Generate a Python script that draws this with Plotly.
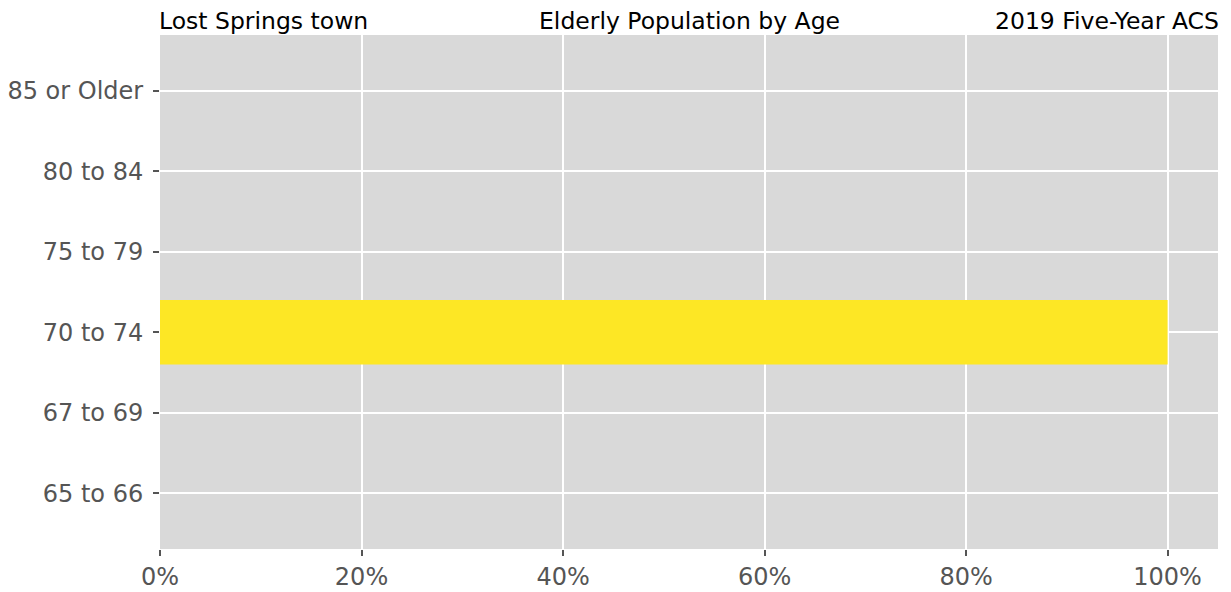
import plotly.graph_objects as go

categories = ["65 to 66", "67 to 69", "70 to 74", "75 to 79", "80 to 84", "85 or Older"]
shares = [0.0, 0.0, 1.0, 0.0, 0.0, 0.0]
x_ticks = [0, 0.2, 0.4, 0.6, 0.8, 1.0]
x_tick_labels = ["0%", "20%", "40%", "60%", "80%", "100%"]

fig = go.Figure()
fig.add_trace(go.Bar(
    y=list(range(len(categories))), x=shares, orientation="h",
    width=0.8, marker=dict(color="#fde725", line=dict(width=0)),
    hoverinfo="skip",
))

font_family = "DejaVu Sans"
title_font = dict(size=23.5, color="black", family=font_family)
# page body has an 8px margin, so the figure is offset by (8, 8)
fig.update_layout(
    width=1223, height=584,
    margin=dict(l=152, r=13, t=27, b=43, autoexpand=False),
    paper_bgcolor="white", plot_bgcolor="#d9d9d9",
    showlegend=False,
    font=dict(family=font_family, size=24, color="#555555"),
    xaxis=dict(range=[0, 1.05], tickvals=x_ticks, ticktext=x_tick_labels,
               showgrid=True, gridcolor="white", gridwidth=2, zeroline=False,
               ticks="outside", ticklen=6, tickcolor="#555555", tickwidth=1.5,
               showline=False, fixedrange=True, automargin=False),
    yaxis=dict(range=[-0.69, 5.69], tickvals=list(range(len(categories))), ticktext=categories,
               showgrid=True, gridcolor="white", gridwidth=2, zeroline=False,
               ticks="outside", ticklen=6, tickcolor="#555555", tickwidth=1.5,
               ticklabelstandoff=5,
               showline=False, fixedrange=True, automargin=False),
    annotations=[
        dict(text="Lost Springs town", xref="paper", yref="paper", x=0, y=1, xanchor="left",
             yanchor="bottom", showarrow=False, font=title_font, yshift=-2, xshift=-3),
        dict(text="Elderly Population by Age", xref="paper", yref="paper", x=0.5, y=1, xanchor="center",
             yanchor="bottom", showarrow=False, font=title_font, yshift=-2),
        dict(text="2019 Five-Year ACS", xref="paper", yref="paper", x=1, y=1, xanchor="right",
             yanchor="bottom", showarrow=False, font=title_font, yshift=-2, xshift=3),
    ],
)

fig.write_html("out.html")
